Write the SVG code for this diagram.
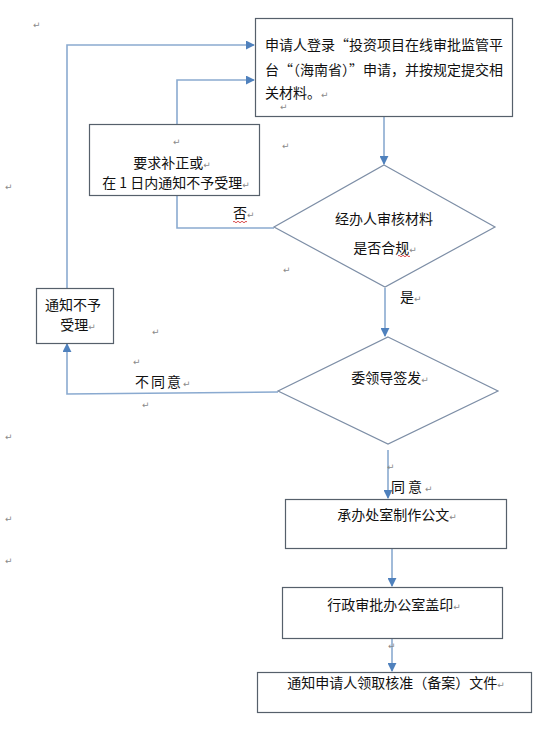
<svg xmlns="http://www.w3.org/2000/svg" width="559" height="738" viewBox="0 0 559 738">
<defs>
<marker id="arr" viewBox="0 0 10 10" refX="9" refY="5" markerWidth="9" markerHeight="9" markerUnits="userSpaceOnUse" orient="auto">
<path d="M0,0 L10,5 L0,10 z" fill="#4f81bd"/>
</marker>
<style>
.box{fill:#fff;stroke:#56606b;stroke-width:1.2}
.dia{fill:#fff;stroke:#7d8ea6;stroke-width:1.2}
.con{fill:none;stroke:#8aaad0;stroke-width:1.6}
.t{font-family:"Noto Sans CJK SC","Liberation Sans",sans-serif;font-size:14px;fill:#111}
.m{font-family:"DejaVu Sans",sans-serif;font-size:9px;fill:#8a8a8a}
.sq{fill:none;stroke:#d02020;stroke-width:0.8}
</style>
</defs>
<rect width="559" height="738" fill="#fff"/>
<g id="connectors">
<path class="con" d="M67,288 V45 H254" marker-end="url(#arr)"/>
<path class="con" d="M177,124 V80 H254" marker-end="url(#arr)"/>
<path class="con" d="M384,117 V164" marker-end="url(#arr)"/>
<path class="con" d="M177,195 V228 H274"/>
<path class="con" d="M385,288 V336" marker-end="url(#arr)"/>
<path class="con" d="M278,392 L67,394 V344" marker-end="url(#arr)"/>
<path class="con" d="M388,450 V498" marker-end="url(#arr)"/>
<path class="con" d="M392,548 V586" marker-end="url(#arr)"/>
<path class="con" d="M392,638 V671" marker-end="url(#arr)"/>
</g>
<g id="n1">
<rect class="box" x="255.5" y="18.5" width="257" height="98"/>
<text class="t" x="265" y="50">申请人登录“投资项目在线审批监管平</text>
<text class="t" x="265" y="75">台“（海南省）”申请，并按规定提交相</text>
<text class="t" x="265" y="98">关材料。<tspan class="m">↵</tspan></text>
<text class="m" x="280" y="110">↵</text>
</g>
<g id="n2">
<rect class="box" x="89.5" y="124.5" width="170" height="71"/>
<text class="m" x="173" y="145">↵</text>
<text class="t" x="172" y="168" text-anchor="middle">要求补正或<tspan class="m">↵</tspan></text>
<text class="t" x="176" y="188" text-anchor="middle">在 1 日内通知不予受理<tspan class="m">↵</tspan></text>
</g>
<g id="n3">
<polygon class="dia" points="384,165 495,227 385,287 274,227"/>
<text class="t" x="384" y="224" text-anchor="middle">经办人审核材料</text>
<text class="t" x="385" y="253" text-anchor="middle">是否合规<tspan class="m">↵</tspan></text>
<path class="sq" d="M398,256 q1,-1.5 2,0 t2,0 t2,0 t2,0 t2,0 t2,0"/>
</g>
<g id="n4">
<rect class="box" x="36.5" y="288.5" width="77" height="55"/>
<text class="t" x="73" y="310" text-anchor="middle">通知不予</text>
<text class="t" x="78" y="330" text-anchor="middle">受理<tspan class="m">↵</tspan></text>
</g>
<g id="n5">
<polygon class="dia" points="388,337 498,391 388,444 278,391"/>
<text class="t" x="390" y="383" text-anchor="middle">委领导签发<tspan class="m">↵</tspan></text>
</g>
<g id="n6">
<rect class="box" x="285.5" y="499.5" width="221" height="49"/>
<text class="t" x="397" y="520" text-anchor="middle">承办处室制作公文<tspan class="m">↵</tspan></text>
</g>
<g id="n7">
<rect class="box" x="282.5" y="587.5" width="220" height="51"/>
<text class="t" x="394" y="610" text-anchor="middle">行政审批办公室盖印<tspan class="m">↵</tspan></text>
</g>
<g id="n8">
<rect class="box" x="257.5" y="672.5" width="274" height="40"/>
<text class="t" x="396" y="688" text-anchor="middle">通知申请人领取核准（备案）文件<tspan class="m">↵</tspan></text>
</g>
<g id="labels">
<text class="t" x="233" y="218">否<tspan class="m">↵</tspan></text>
<path class="sq" d="M233,222 q1,-1.5 2,0 t2,0 t2,0 t2,0 t2,0 t2,0 t2,0"/>
<text class="t" x="400" y="302">是<tspan class="m">↵</tspan></text>
<text class="t" x="135" y="387" letter-spacing="2">不同意<tspan class="m">↵</tspan></text>
<text class="t" x="391" y="492" letter-spacing="3">同意<tspan class="m">↵</tspan></text>
</g>
<g id="marks">
<text class="m" x="33" y="28">↵</text>
<text class="m" x="5" y="190">↵</text>
<text class="m" x="282" y="149">↵</text>
<text class="m" x="283" y="273">↵</text>
<text class="m" x="152" y="335">↵</text>
<text class="m" x="133" y="365">↵</text>
<text class="m" x="142" y="408">↵</text>
<text class="m" x="5" y="440">↵</text>
<text class="m" x="387" y="470">↵</text>
<text class="m" x="5" y="522">↵</text>
<text class="m" x="5" y="564">↵</text>
<text class="m" x="388" y="649">↵</text>
</g>
</svg>
